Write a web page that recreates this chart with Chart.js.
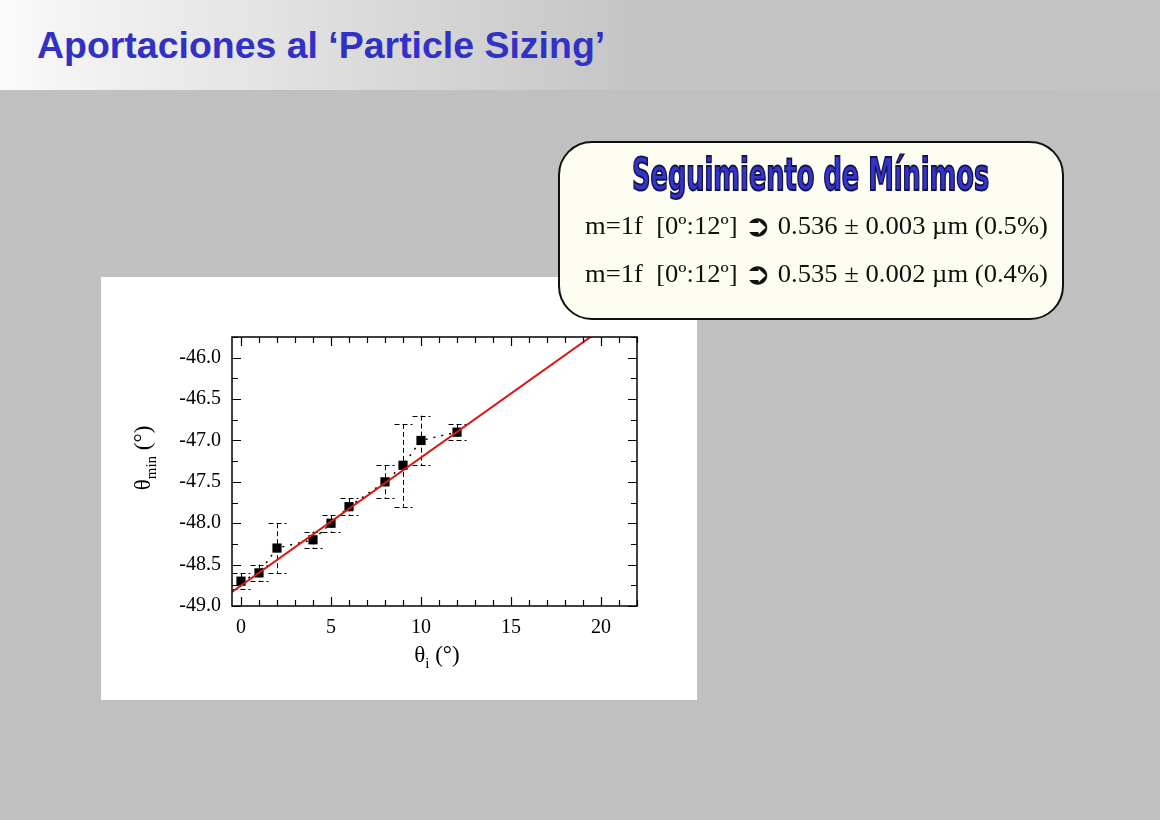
<!DOCTYPE html>
<html>
<head>
<meta charset="utf-8">
<script src="https://cdn.jsdelivr.net/npm/chart.js@4.4.1/dist/chart.umd.min.js"></script>
<style>
  html, body { margin: 0; padding: 0; }
  body { width: 1160px; height: 820px; background: #c0c0c0; position: relative; overflow: hidden; }
  #bar { position: absolute; left: 0; top: 0; width: 1160px; height: 90px;
         background: linear-gradient(90deg, #fbfbfb 0px, #f4f4f4 60px, #c4c4c4 640px, #c3c3c3 1160px); }
  #title { position: absolute; left: 37px; top: 26px; font-family: "Liberation Sans", Arial, sans-serif;
           font-weight: bold; font-size: 36px; line-height: 40px; color: #3131c6; white-space: nowrap;
           transform-origin: 0 50%; }
  #panel { position: absolute; left: 101px; top: 277px; width: 596px; height: 423px; background: #fff; }
  #box { position: absolute; left: 558px; top: 141px; width: 502px; height: 175px; background: #fdfdf1;
         border: 2px solid #111; border-radius: 34px; }
  .boxttl { position: absolute; left: 0; top: 12px; width: 502px; text-align: center; white-space: nowrap; }
  .boxttl span { display: inline-block; font-family: "Liberation Sans Narrow", "DejaVu Sans Condensed", sans-serif;
           font-weight: bold; font-size: 37px; line-height: 40px; color: #3434cc; -webkit-text-stroke: 1.6px #14144c; }
  .ln { position: absolute; left: 25px; white-space: nowrap; font-family: "Liberation Serif", "Times New Roman", serif;
        font-size: 25px; line-height: 30px; color: #111; transform-origin: 0 50%; }
  .arr { font-family: "DejaVu Sans", sans-serif; font-size: 30px; line-height: 20px; vertical-align: -2px; }
</style>
</head>
<body>
<div id="bar"></div>
<div id="title">Aportaciones al ‘Particle Sizing’</div>
<div id="panel"><canvas id="chart" width="596" height="423"></canvas></div>
<div id="box">
  <div class="boxttl"><span id="bt">Seguimiento de Mínimos</span></div>
  <div class="ln" id="ln1" style="top:68px">m=1f&nbsp; [0º:12º] <span class="arr">➲</span> 0.536 ± 0.003 µm (0.5%)</div>
  <div class="ln" id="ln2" style="top:116px">m=1f&nbsp; [0º:12º] <span class="arr">➲</span> 0.535 ± 0.002 µm (0.4%)</div>
</div>
<script>
// medidas (grados)
const thetaI   = [0, 1, 2, 4, 5, 6, 8, 9, 10, 12];
const thetaMin = [-48.7, -48.6, -48.3, -48.2, -48.0, -47.8, -47.5, -47.3, -47.0, -46.9];
const errMin   = [0.1, 0.1, 0.3, 0.1, 0.1, 0.1, 0.2, 0.5, 0.3, 0.1];

// recta de ajuste (extremos)
const fitX = [-0.5, 22];
const fitY = [-48.83, -45.35];

const xTicks = [0, 5, 10, 15, 20];
const yTicks = [-49.0, -48.5, -48.0, -47.5, -47.0, -46.5, -46.0];

// ajusta el ancho de un texto al de la figura
function fitWidth(id, w, sy) {
  const el = document.getElementById(id);
  el.style.transform = 'scale(' + (w / el.offsetWidth) + ',' + (sy || 1) + ')';
}
fitWidth('title', 568);
fitWidth('ln1', 463);
fitWidth('ln2', 463);
fitWidth('bt', 357, 1.22);

const serif = '"Liberation Serif", "Times New Roman", serif';

const errorBars = {
  id: 'errorBars',
  beforeDatasetsDraw(chart) {
    const ctx = chart.ctx, xs = chart.scales.x, ys = chart.scales.y;
    ctx.save();
    ctx.strokeStyle = '#000';
    ctx.lineWidth = 1;
    ctx.setLineDash([5, 3]);
    thetaI.forEach((t, i) => {
      const px = Math.round(xs.getPixelForValue(t)) + 0.5;
      const top = ys.getPixelForValue(thetaMin[i] + errMin[i]);
      const bot = ys.getPixelForValue(thetaMin[i] - errMin[i]);
      ctx.beginPath();
      ctx.moveTo(px, top); ctx.lineTo(px, bot);
      ctx.moveTo(px - 9, Math.round(top) + 0.5); ctx.lineTo(px + 9, Math.round(top) + 0.5);
      ctx.moveTo(px - 9, Math.round(bot) + 0.5); ctx.lineTo(px + 9, Math.round(bot) + 0.5);
      ctx.stroke();
    });
    ctx.restore();
  }
};

const frame = {
  id: 'frame',
  afterDraw(chart) {
    const ctx = chart.ctx, a = chart.chartArea, xs = chart.scales.x, ys = chart.scales.y;
    ctx.save();
    ctx.strokeStyle = '#000';
    ctx.lineWidth = 1.5;
    ctx.strokeRect(a.left, a.top, a.right - a.left, a.bottom - a.top);
    ctx.lineWidth = 1.2;
    ctx.beginPath();
    for (let v = 0; v <= 22; v++) {
      const len = v % 5 === 0 ? 9 : 6;
      const px = Math.round(xs.getPixelForValue(v)) + 0.5;
      ctx.moveTo(px, a.bottom); ctx.lineTo(px, a.bottom - len);
      ctx.moveTo(px, a.top); ctx.lineTo(px, a.top + len);
    }
    for (let k = 0; k <= 13; k++) {
      const v = -49 + k * 0.25;
      const len = k % 2 === 0 ? 9 : 6;
      const py = Math.round(ys.getPixelForValue(v)) + 0.5;
      ctx.moveTo(a.left, py); ctx.lineTo(a.left + len, py);
      ctx.moveTo(a.right, py); ctx.lineTo(a.right - len, py);
    }
    ctx.stroke();

    // títulos de los ejes con subíndice
    ctx.fillStyle = '#000';
    ctx.textBaseline = 'middle';
    function label(x, y, main, sub, rest) {
      ctx.font = '23px ' + serif;
      const w1 = ctx.measureText(main).width;
      const w3 = ctx.measureText(rest).width;
      ctx.font = '15px ' + serif;
      const w2 = ctx.measureText(sub).width;
      let cx = x - (w1 + w2 + w3) / 2;
      ctx.textAlign = 'left';
      ctx.font = '23px ' + serif;
      ctx.fillText(main, cx, y); cx += w1;
      ctx.font = '15px ' + serif;
      ctx.fillText(sub, cx, y + 8); cx += w2;
      ctx.font = '23px ' + serif;
      ctx.fillText(rest, cx, y);
    }
    label(336, 379, 'θ', 'i', ' (°)');
    ctx.translate(43, 181);
    ctx.rotate(-Math.PI / 2);
    label(0, 0, 'θ', 'min', ' (°)');
    ctx.restore();
  }
};

new Chart(document.getElementById('chart'), {
  type: 'scatter',
  data: {
    datasets: [
      {
        label: 'fit',
        data: fitX.map((x, i) => ({ x: x, y: fitY[i] })),
        showLine: true,
        borderColor: '#dc1414',
        borderWidth: 2,
        pointRadius: 0,
        order: 0
      },
      {
        label: 'medidas',
        data: thetaI.map((x, i) => ({ x: x, y: thetaMin[i] })),
        showLine: true,
        borderColor: '#000',
        borderWidth: 1.5,
        borderDash: [2, 6],
        backgroundColor: '#000',
        pointStyle: 'rect',
        pointRadius: 6.5,
        pointBorderWidth: 0,
        order: 1
      }
    ]
  },
  options: {
    responsive: false,
    animation: false,
    events: [],
    layout: { padding: { left: 0, top: 60, right: 60, bottom: 0 } },
    plugins: { legend: { display: false }, tooltip: { enabled: false } },
    scales: {
      x: {
        type: 'linear', min: -0.5, max: 22,
        afterBuildTicks: s => { s.ticks = xTicks.map(v => ({ value: v })); },
        afterFit: s => { s.height = 94; },
        grid: { display: false, drawTicks: false },
        border: { display: false },
        ticks: { color: '#000', padding: 10, font: { family: serif, size: 20 } }
      },
      y: {
        type: 'linear', min: -49, max: -45.75,
        afterBuildTicks: s => { s.ticks = yTicks.map(v => ({ value: v })); },
        afterFit: s => { s.width = 131; },
        grid: { display: false, drawTicks: false },
        border: { display: false },
        ticks: { color: '#000', padding: 11, font: { family: serif, size: 20 }, callback: v => v.toFixed(1) }
      }
    }
  },
  plugins: [errorBars, frame]
});
</script>
</body>
</html>
